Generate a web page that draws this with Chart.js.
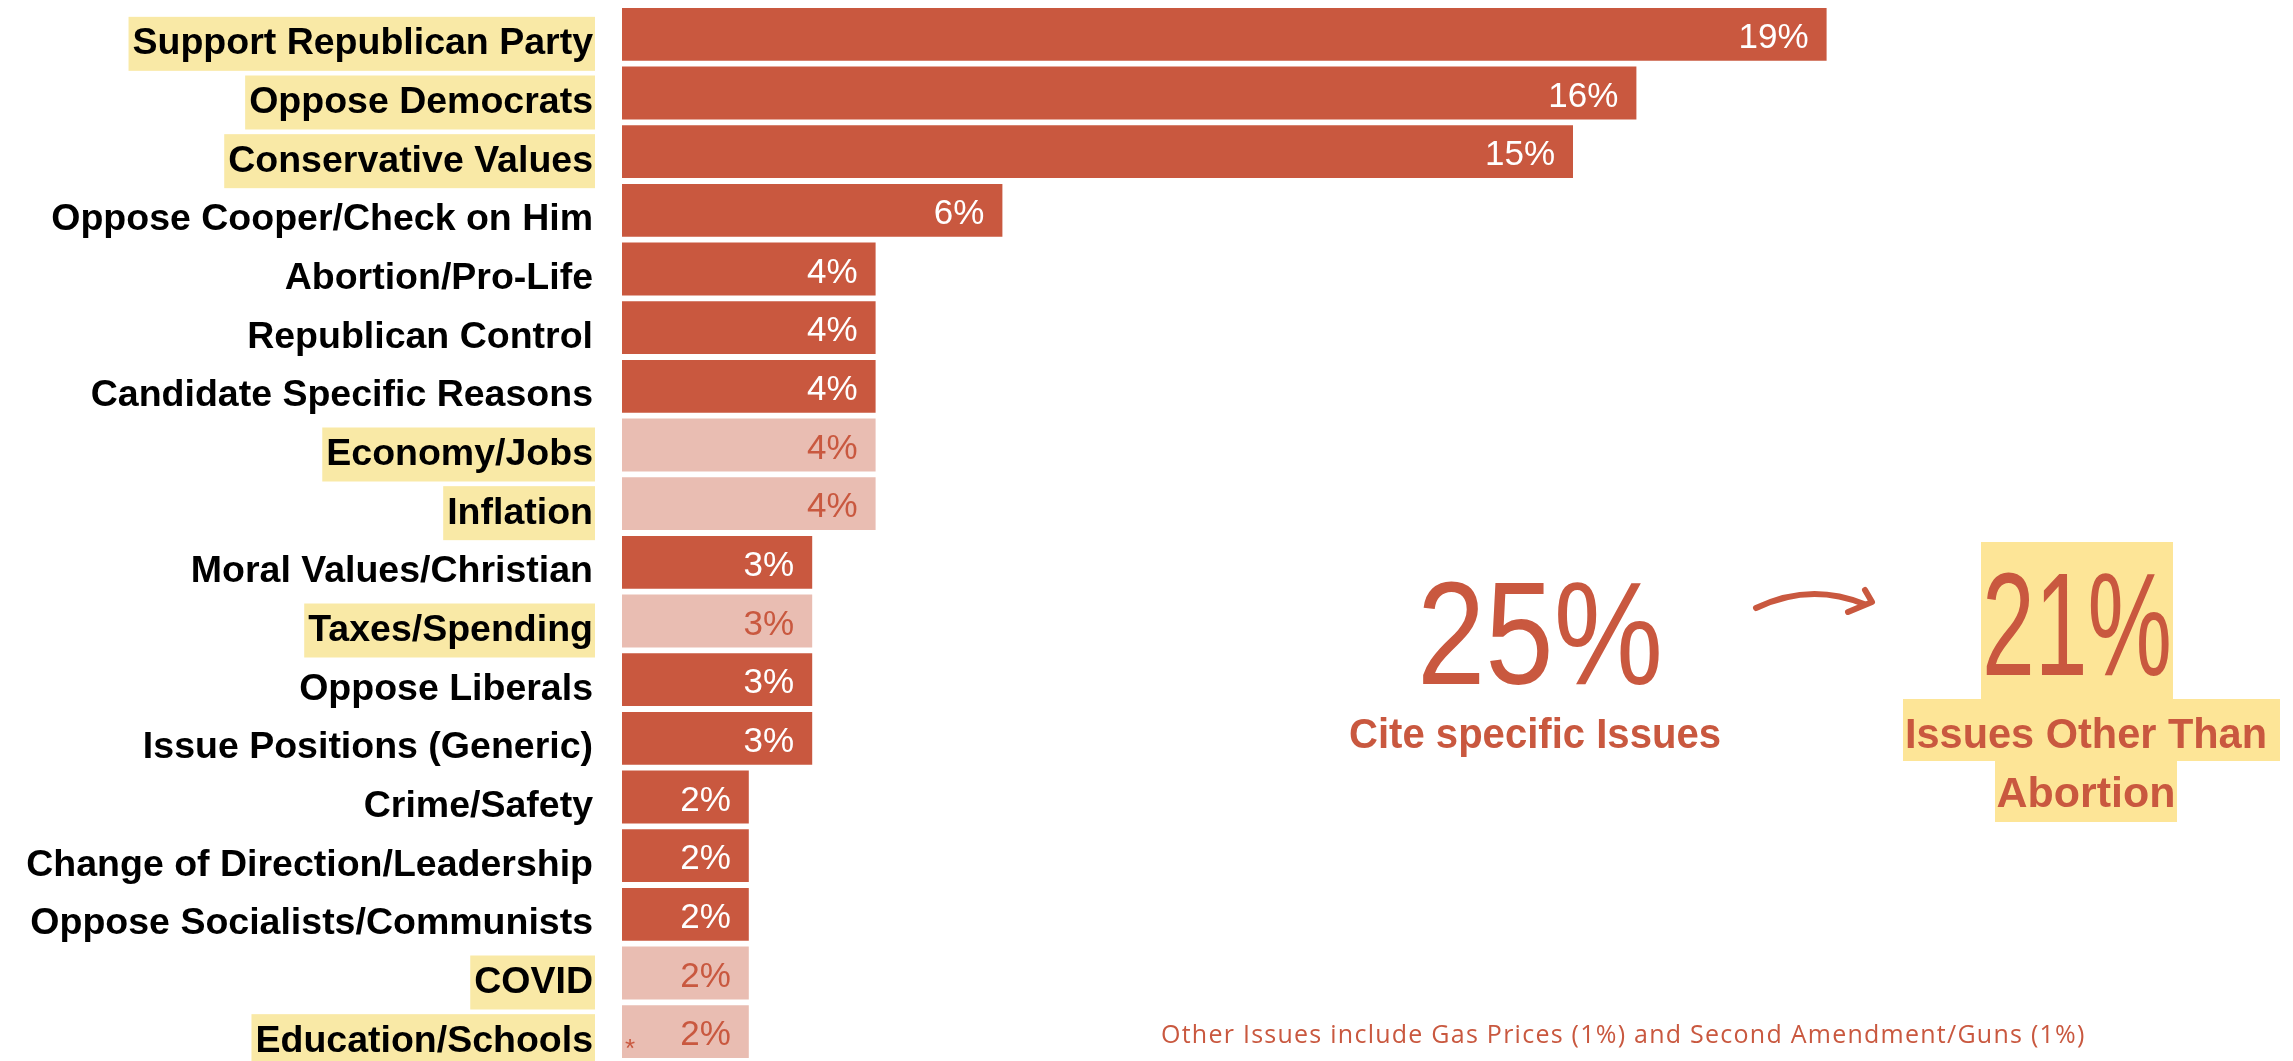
<!DOCTYPE html>
<html>
<head>
<meta charset="utf-8">
<script src="https://cdn.jsdelivr.net/npm/chart.js@4"></script>
<style>
    html, body { margin: 0; padding: 0; background: #ffffff; }
    #chart { display: block; }
</style>
</head>
<body>
<canvas id="chart" width="2293" height="1061"></canvas>
<script>
const categories = [
    'Support Republican Party', 'Oppose Democrats', 'Conservative Values',
    'Oppose Cooper/Check on Him', 'Abortion/Pro-Life', 'Republican Control',
    'Candidate Specific Reasons', 'Economy/Jobs', 'Inflation',
    'Moral Values/Christian', 'Taxes/Spending', 'Oppose Liberals',
    'Issue Positions (Generic)', 'Crime/Safety', 'Change of Direction/Leadership',
    'Oppose Socialists/Communists', 'COVID', 'Education/Schools'
];
const percents = [19, 16, 15, 6, 4, 4, 4, 4, 4, 3, 3, 3, 3, 2, 2, 2, 2, 2];
// categories counted as "specific issues" (light bars)
const issueCategories = ['Economy/Jobs', 'Inflation', 'Taxes/Spending', 'COVID', 'Education/Schools'];
const highlightedLabels = ['Support Republican Party', 'Oppose Democrats', 'Conservative Values',
    'Economy/Jobs', 'Inflation', 'Taxes/Spending', 'COVID', 'Education/Schools'];
const specificIssuesTotal = '25%';
const otherThanAbortion = '21%';
const footnote = 'Other Issues include Gas Prices (1%) and Second Amendment/Guns (1%)';

const ORANGE = '#c9583f';
const LIGHT = '#e9bdb2';
const YELLOW = '#f9e9a6';
const YELLOW2 = '#fde597';
const LABEL_FONT = 'bold 37.5px "Liberation Sans", Arial, sans-serif';

const barColors = categories.map(c => issueCategories.includes(c) ? LIGHT : ORANGE);

// draw text centred at cx, squeezed/stretched to a given width
function fitText(ctx, text, cx, baseline, width) {
    const w = ctx.measureText(text).width;
    ctx.save();
    ctx.translate(cx, baseline);
    ctx.scale(width / w, 1);
    ctx.textAlign = 'center';
    ctx.fillText(text, 0, 0);
    ctx.restore();
}

const labelHighlight = {
    id: 'labelHighlight',
    beforeDraw(chart) {
        const ctx = chart.ctx;
        const y = chart.scales.y;
        const right = y.right - 29;
        ctx.save();
        ctx.font = LABEL_FONT;
        ctx.fillStyle = YELLOW;
        categories.forEach((c, i) => {
            if (!highlightedLabels.includes(c)) return;
            const w = ctx.measureText(c).width;
            const cy = y.getPixelForTick(i) + 9.5;
            ctx.fillRect(right - w - 4, cy - 27, w + 6, 54);
        });
        ctx.restore();
    }
};

const valueLabels = {
    id: 'valueLabels',
    afterDatasetsDraw(chart) {
        const ctx = chart.ctx;
        const meta = chart.getDatasetMeta(0);
        ctx.save();
        ctx.font = '35px "Liberation Sans", Arial, sans-serif';
        ctx.textAlign = 'right';
        ctx.textBaseline = 'middle';
        meta.data.forEach((bar, i) => {
            const light = issueCategories.includes(categories[i]);
            ctx.fillStyle = light ? ORANGE : '#ffffff';
            ctx.fillText(percents[i] + '%', bar.x - 18, bar.y + 4);
        });
        // footnote marker on the last bar
        const last = meta.data[meta.data.length - 1];
        ctx.fillStyle = ORANGE;
        ctx.font = '26px "Liberation Sans", Arial, sans-serif';
        ctx.textAlign = 'left';
        ctx.fillText('*', last.base + 3, last.y + 18);
        ctx.restore();
    }
};

const annotations = {
    id: 'annotations',
    afterDraw(chart) {
        const ctx = chart.ctx;
        ctx.save();
        // highlight behind 21%
        ctx.fillStyle = YELLOW2;
        ctx.fillRect(1981, 542, 192, 158);
        ctx.fillRect(1903, 699, 377, 62);
        ctx.fillRect(1995, 760, 182, 62);

        ctx.fillStyle = ORANGE;
        ctx.textBaseline = 'alphabetic';
        ctx.font = '146px "Liberation Sans", sans-serif';
        fitText(ctx, specificIssuesTotal, 1540, 684, 246);
        fitText(ctx, otherThanAbortion, 2077, 675, 190);

        ctx.font = 'bold 43px "Liberation Sans", Arial, sans-serif';
        fitText(ctx, 'Cite specific Issues', 1535, 748, 372);
        fitText(ctx, 'Issues Other Than', 2086, 748, 362);
        fitText(ctx, 'Abortion', 2086, 807, 179);

        // hand drawn arrow
        ctx.strokeStyle = ORANGE;
        ctx.lineWidth = 6;
        ctx.lineCap = 'round';
        ctx.lineJoin = 'round';
        ctx.beginPath();
        ctx.moveTo(1756, 608);
        ctx.quadraticCurveTo(1810, 582, 1864, 604);
        ctx.stroke();
        ctx.beginPath();
        ctx.moveTo(1865, 590);
        ctx.lineTo(1872, 602);
        ctx.lineTo(1848, 612);
        ctx.stroke();

        ctx.font = '25px "Open Sans", sans-serif';
        ctx.letterSpacing = '1.25px';
        ctx.textAlign = 'left';
        ctx.fillText(footnote, 1161, 1043);
        ctx.restore();
    }
};

new Chart(document.getElementById('chart'), {
    type: 'bar',
    data: {
        labels: categories,
        datasets: [{
            data: percents,
            backgroundColor: barColors,
            borderWidth: 0,
            barPercentage: 0.9,
            categoryPercentage: 1.0
        }]
    },
    options: {
        indexAxis: 'y',
        responsive: false,
        animation: false,
        devicePixelRatio: 1,
        layout: { padding: { top: 5, bottom: 0, left: 0, right: 403 } },
        plugins: {
            legend: { display: false },
            tooltip: { enabled: false },
            title: { display: false }
        },
        scales: {
            x: {
                display: false,
                min: 0,
                max: 20
            },
            y: {
                grid: { display: false, drawTicks: false },
                border: { display: false },
                ticks: {
                    color: '#000000',
                    padding: 29,
                    labelOffset: 9.5,
                    autoSkip: false,
                    font: { family: '"Liberation Sans", Arial, sans-serif', size: 37.5, weight: 'bold' }
                },
                afterFit(scale) {
                    scale.width = 622;
                    scale.paddingTop = 0;
                    scale.paddingBottom = 0;
                }
            }
        }
    },
    plugins: [labelHighlight, valueLabels, annotations]
});
</script>
</body>
</html>
